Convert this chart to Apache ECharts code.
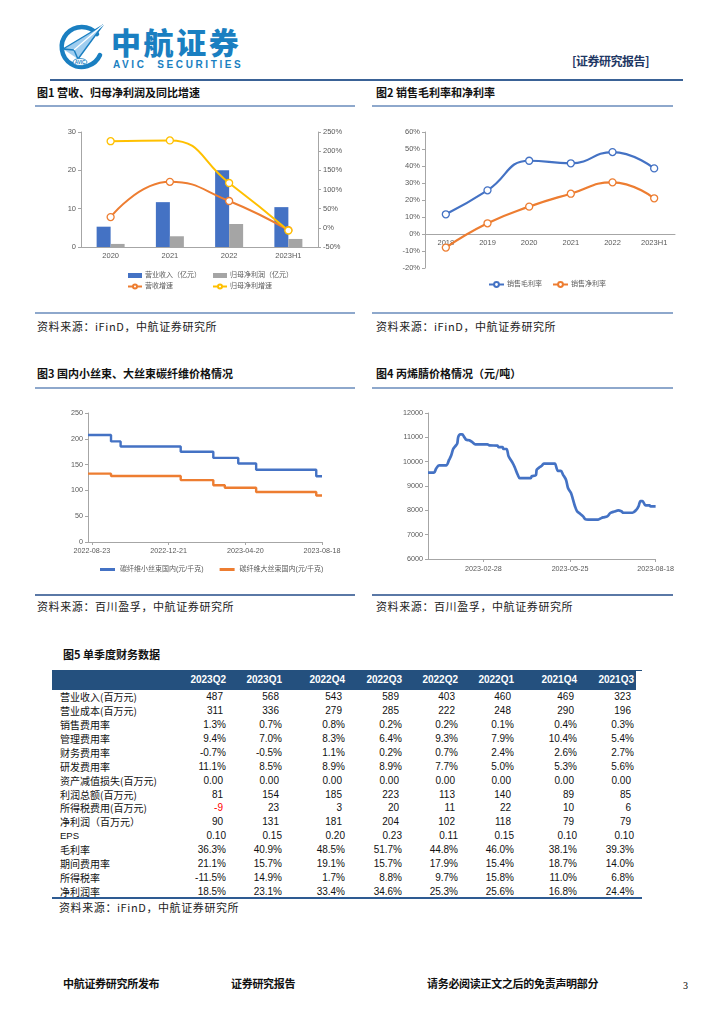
<!DOCTYPE html>
<html><head><meta charset="utf-8">
<script src="https://cdn.jsdelivr.net/npm/echarts@6/dist/echarts.min.js"></script>
<style>
html,body{margin:0;padding:0;background:#fff}
body{position:relative;width:724px;height:1024px;overflow:hidden;font-family:"Noto Sans CJK SC",sans-serif;color:#000}
.t{position:absolute;white-space:nowrap;transform:translateY(-50%);line-height:1.25}
.ln{position:absolute}
.chart{position:absolute}
.title{font-size:11px;font-weight:bold;color:#111}
.src{font-size:11px;color:#222;letter-spacing:0.6px}
.foot{font-size:11px;font-weight:bold;color:#111;letter-spacing:-0.3px}
.num{font-family:"Liberation Sans",Arial,sans-serif;font-size:10px;color:#111}
.lab{font-size:10px;color:#111}
.hd{font-family:"Liberation Sans",Arial,sans-serif;font-size:10px;font-weight:bold;color:#fff}
</style></head><body>
<svg style="position:absolute;left:56px;top:22px" width="50" height="50" viewBox="0 0 50 50">
  <path d="M41 12 A20 20 0 1 0 44 33" fill="none" stroke="#1a7fc1" stroke-width="4.5" stroke-linecap="round"/>
  <polygon points="7,27 47,3 22,37" fill="#9fcdef"/>
  <polyline points="7,27 47,3 22,37 18,28 7,27" fill="none" stroke="#1a7fc1" stroke-width="1.4"/>
  <line x1="18" y1="28" x2="47" y2="3" stroke="#ffffff" stroke-width="1.2"/>
  <ellipse cx="24" cy="40" rx="7" ry="3.5" fill="#fff" stroke="#1a7fc1" stroke-width="0.8"/>
  <text x="24" y="41.8" font-size="4.6" font-family="Liberation Sans" font-weight="bold" fill="#1a7fc1" text-anchor="middle">AVIC</text>
</svg>
<div id="c1" class="chart" style="left:35px;top:110px;width:320px;height:195px"></div>
<div id="c2" class="chart" style="left:372px;top:110px;width:305px;height:195px"></div>
<div id="c3" class="chart" style="left:35px;top:390px;width:320px;height:200px"></div>
<div id="c4" class="chart" style="left:372px;top:390px;width:305px;height:200px"></div>
<script>
// ---------------- DATA ----------------
// Fig 1
const f1Years = ['2020', '2021', '2022', '2023H1'];
const f1Revenue = [5.3, 11.7, 20.0, 10.4];        // 营业收入（亿元）
const f1NetProfit = [0.8, 2.8, 6.0, 2.1];         // 归母净利润（亿元）
const f1RevenueGrowth = [28, 120, 70, -6];        // 营收增速 %
const f1ProfitGrowth = [226, 228, 117, -7];       // 归母净利增速 %
// Fig 2
const f2Years = ['2018', '2019', '2020', '2021', '2022', '2023H1'];
const f2GrossMargin = [11.6, 25.7, 43.1, 41.6, 48.2, 38.6];
const f2NetMargin = [-8.0, 6.3, 16.1, 23.7, 30.4, 21.0];
// Fig 3 (step changes: date, price 元/千克)
const f3SmallTowDates = ['2022-08-17', '2022-09-22', '2022-10-07', '2023-01-09', '2023-03-01', '2023-04-09', '2023-05-07', '2023-08-09', '2023-08-18'];
const f3SmallTowPrice = [207.5, 195, 185, 175, 163, 152, 140, 127.5, 127.5];
const f3LargeTowDates = ['2022-08-17', '2022-09-22', '2023-01-09', '2023-03-01', '2023-03-19', '2023-05-07', '2023-08-09', '2023-08-18'];
const f3LargeTowPrice = [132.5, 128, 120, 110, 105, 97, 90, 90];
const f3TickDates = ['2022-08-23', '2022-12-21', '2023-04-20', '2023-08-18'];
// Fig 4 丙烯腈 (元/吨)
const f4Dates = ['2023-01-04','2023-01-10','2023-01-12','2023-01-15','2023-01-22','2023-01-25','2023-01-27','2023-01-29','2023-01-31','2023-02-02','2023-02-03','2023-02-05','2023-02-07','2023-02-09','2023-02-11','2023-02-14','2023-02-17','2023-02-20','2023-03-04','2023-03-06','2023-03-14','2023-03-15','2023-03-19','2023-03-20','2023-03-23','2023-03-25','2023-03-29','2023-03-31','2023-04-03','2023-04-05','2023-04-07','2023-04-16','2023-04-17','2023-04-21','2023-04-22','2023-04-25','2023-04-27','2023-04-29','2023-05-09','2023-05-10','2023-05-13','2023-05-16','2023-05-18','2023-05-21','2023-05-23','2023-05-26','2023-05-28','2023-05-30','2023-06-01','2023-06-04','2023-06-07','2023-06-09','2023-06-12','2023-06-22','2023-06-25','2023-06-27','2023-07-01','2023-07-04','2023-07-08','2023-07-12','2023-07-15','2023-07-17','2023-07-26','2023-07-30','2023-08-01','2023-08-03','2023-08-05','2023-08-08','2023-08-12','2023-08-13','2023-08-18'];
const f4Prices = [9550,9550,9710,9850,9850,10080,10250,10520,10630,10740,11010,11120,11120,11010,10900,10880,10800,10710,10710,10670,10660,10600,10600,10520,10520,10220,9950,9780,9470,9320,9320,9320,9400,9440,9670,9780,9830,9920,9920,9920,9620,9620,9470,9260,8920,8710,8440,8160,7960,7860,7750,7640,7620,7620,7680,7710,7750,7890,7950,8000,7960,7900,7900,8030,8160,8380,8380,8200,8200,8160,8160];
const f4TickDates = ['2023-02-28', '2023-05-25', '2023-08-18'];
// Fig 5 table
const tblQuarters = ['2023Q2','2023Q1','2022Q4','2022Q3','2022Q2','2022Q1','2021Q4','2021Q3'];
const rowRevenue = ['487','568','543','589','403','460','469','323'];
const rowCost = ['311','336','279','285','222','248','290','196'];
const rowSellExp = ['1.3%','0.7%','0.8%','0.2%','0.2%','0.1%','0.4%','0.3%'];
const rowAdminExp = ['9.4%','7.0%','8.3%','6.4%','9.3%','7.9%','10.4%','5.4%'];
const rowFinExp = ['-0.7%','-0.5%','1.1%','0.2%','0.7%','2.4%','2.6%','2.7%'];
const rowRdExp = ['11.1%','8.5%','8.9%','8.9%','7.7%','5.0%','5.3%','5.6%'];
const rowImpair = ['0.00','0.00','0.00','0.00','0.00','0.00','0.00','0.00'];
const rowTotalProfit = ['81','154','185','223','113','140','89','85'];
const rowTax = ['-9','23','3','20','11','22','10','6'];
const rowNetProfit = ['90','131','181','204','102','118','79','79'];
const rowEps = ['0.10','0.15','0.20','0.23','0.11','0.15','0.10','0.10'];
const rowGross = ['36.3%','40.9%','48.5%','51.7%','44.8%','46.0%','38.1%','39.3%'];
const rowPeriodExp = ['21.1%','15.7%','19.1%','15.7%','17.9%','15.4%','18.7%','14.0%'];
const rowTaxRate = ['-11.5%','14.9%','1.7%','8.8%','9.7%','15.8%','11.0%','6.8%'];
const rowNetMargin = ['18.5%','23.1%','33.4%','34.6%','25.3%','25.6%','16.8%','24.4%'];
const tblRowLabels = ['营业收入(百万元)','营业成本(百万元)','销售费用率','管理费用率','财务费用率','研发费用率','资产减值损失(百万元)','利润总额(百万元)','所得税费用(百万元)','净利润（百万元）','EPS','毛利率','期间费用率','所得税率','净利润率'];
const tblRows = [rowRevenue,rowCost,rowSellExp,rowAdminExp,rowFinExp,rowRdExp,rowImpair,rowTotalProfit,rowTax,rowNetProfit,rowEps,rowGross,rowPeriodExp,rowTaxRate,rowNetMargin];

// ---------------- PAGE TEXT ----------------
function addText(s, x, y, cls, anchor, extra) {
  const d = document.createElement('div');
  d.className = 't ' + (cls || '');
  d.textContent = s;
  d.style.top = y + 'px';
  if (anchor === 'r') d.style.right = (724 - x) + 'px';
  else d.style.left = x + 'px';
  if (extra) Object.assign(d.style, extra);
  document.body.appendChild(d);
  return d;
}
function addLine(x1, x2, y, color, h) {
  const d = document.createElement('div');
  d.className = 'ln';
  Object.assign(d.style, {left: x1 + 'px', width: (x2 - x1) + 'px', top: (y - h / 2) + 'px', height: h + 'px', background: color});
  document.body.appendChild(d);
}
function addBox(x, y, w, h, color) {
  const d = document.createElement('div');
  d.className = 'ln';
  Object.assign(d.style, {left: x + 'px', top: y + 'px', width: w + 'px', height: h + 'px', background: color});
  document.body.appendChild(d);
}

// header
addText('中航证券', 111, 41, '', 'l', {fontSize: '30px', fontWeight: '900', color: '#1a7fc1', letterSpacing: '2.6px', lineHeight: '1'});
addText('AVIC  SECURITIES', 113, 64.5, '', 'l', {fontFamily: '"Liberation Sans",Arial,sans-serif', fontSize: '10px', fontWeight: 'bold', color: '#1a7fc1', letterSpacing: '2.6px', whiteSpace: 'pre', lineHeight: '1'});
addText('[证券研究报告]', 572, 60, '', 'l', {fontSize: '12px', fontWeight: 'bold', color: '#1f3864', letterSpacing: '-0.5px'});
addLine(50, 683, 80, '#3a6296', 1.5);

// panel frames
const panelLine = '#8ea8cc';
addLine(35, 355, 106, panelLine, 1.5); addLine(35, 355, 313, panelLine, 1.5);
addLine(372, 673, 106, panelLine, 1.5); addLine(372, 673, 313, panelLine, 1.5);
addLine(35, 355, 388, panelLine, 1.5); addLine(35, 355, 595, '#5a78a6', 1.5);
addLine(372, 673, 388, panelLine, 1.5); addLine(372, 673, 595, '#5a78a6', 1.5);

addText('图1  营收、归母净利润及同比增速', 37, 93, 'title');
addText('图2  销售毛利率和净利率', 376, 93, 'title');
addText('图3  国内小丝束、大丝束碳纤维价格情况', 37, 374, 'title');
addText('图4  丙烯腈价格情况（元/吨）', 376, 374, 'title');
addText('图5  单季度财务数据', 63, 655, 'title');

addText('资料来源：iFinD，中航证券研究所', 37, 327, 'src');
addText('资料来源：iFinD，中航证券研究所', 376, 327, 'src');
addText('资料来源：百川盈孚，中航证券研究所', 37, 607, 'src');
addText('资料来源：百川盈孚，中航证券研究所', 376, 607, 'src');
addText('资料来源：iFinD，中航证券研究所', 59, 908, 'src');

// footer
addText('中航证券研究所发布', 63, 984, 'foot');
addText('证券研究报告', 231, 984, 'foot');
addText('请务必阅读正文之后的免责声明部分', 427, 984, 'foot');
addText('3', 683, 986, '', 'l', {fontFamily: '"Liberation Serif",serif', fontSize: '10px'});

// table
const colRight = [226, 282, 345, 402, 458, 514, 577, 634];
addLine(52, 642, 670.5, '#24507e', 1);
addBox(52, 670, 584, 20, '#24507e');
tblQuarters.forEach((q, i) => addText(q, colRight[i], 680, 'hd', 'r'));
const rowY0 = 697.3, rowStep = 13.89;
tblRows.forEach((row, r) => {
  const y = rowY0 + r * rowStep;
  addText(tblRowLabels[r], 60, y, tblRowLabels[r] === 'EPS' ? 'num' : 'lab', 'l', tblRowLabels[r] === 'EPS' ? {fontSize: '9.5px'} : null);
  row.forEach((v, c) => {
    const isPct = v.indexOf('%') >= 0 || tblRowLabels[r] === 'EPS';
    const d = addText(v, colRight[c] - (isPct ? 0 : 3), y, 'num', 'r');
    if (v.charAt(0) === '-' && !isPct) d.style.color = '#ff0000';
  });
});
addLine(52, 642, 898, '#2e5b92', 1.5);

// ---------------- CHARTS ----------------
const FONT = "'Liberation Sans','Noto Sans CJK SC',sans-serif";
const axisGray = '#a6a6a6';
const labelGray = '#595959';
const toTime = s => new Date(s.replace(/-/g, '/')).getTime();
const fmtDate = v => { const d = new Date(v); const p = n => (n < 10 ? '0' : '') + n; return d.getFullYear() + '-' + p(d.getMonth() + 1) + '-' + p(d.getDate()); };

function valAxis(extra) {
  return Object.assign({
    type: 'value', splitLine: {show: false},
    axisLine: {show: true, lineStyle: {color: axisGray, width: 1}},
    axisTick: {show: true, length: 3, lineStyle: {color: axisGray}},
    axisLabel: {color: labelGray, fontSize: 7.5, fontFamily: FONT, margin: 5}
  }, extra);
}
const lineMarker = c => ({type: 'line', smooth: true, symbol: 'circle', symbolSize: 7, showSymbol: true,
  lineStyle: {color: c, width: 2}, itemStyle: {color: '#fff', borderColor: c, borderWidth: 1.3}, z: 3});

// Chart 1
try {
const c1 = echarts.init(document.getElementById('c1'), null, {renderer: 'canvas'});
c1.setOption({
  animation: false,
  grid: {left: 46, top: 22, width: 237, height: 115, containLabel: false},
  xAxis: {type: 'category', data: f1Years,
    axisLine: {lineStyle: {color: axisGray}}, axisTick: {length: 3, lineStyle: {color: axisGray}},
    axisLabel: {color: labelGray, fontSize: 7.5, fontFamily: FONT, margin: 5}},
  yAxis: [valAxis({min: 0, max: 30, interval: 10}),
          valAxis({min: -50, max: 250, interval: 50, position: 'right', axisLabel: {color: labelGray, fontSize: 7.5, fontFamily: FONT, margin: 5, formatter: '{value}%'}})],
  legend: [
    {orient: 'vertical', left: 87, top: 157, itemWidth: 14, itemHeight: 5, itemGap: 4,
     textStyle: {color: labelGray, fontSize: 7, fontFamily: FONT, padding: [0, 0, 0, -2]},
     data: [{name: '营业收入（亿元）', icon: 'rect'}, {name: '营收增速'}]},
    {orient: 'vertical', left: 172, top: 157, itemWidth: 14, itemHeight: 5, itemGap: 4,
     textStyle: {color: labelGray, fontSize: 7, fontFamily: FONT, padding: [0, 0, 0, -2]},
     data: [{name: '归母净利润（亿元）', icon: 'rect'}, {name: '归母净利增速'}]}
  ],
  series: [
    {type: 'bar', name: '营业收入（亿元）', data: f1Revenue, barWidth: 14, barGap: '0%', itemStyle: {color: '#4472c4'}},
    {type: 'bar', name: '归母净利润（亿元）', data: f1NetProfit, barWidth: 14, barGap: '0%', itemStyle: {color: '#a5a5a5'}},
    Object.assign(lineMarker('#ed7d31'), {name: '营收增速', yAxisIndex: 1, data: f1RevenueGrowth}),
    Object.assign(lineMarker('#ffc000'), {name: '归母净利增速', yAxisIndex: 1, data: f1ProfitGrowth})
  ]
});
} catch (e) { console.error(e); }

// Chart 2
try {
const c2 = echarts.init(document.getElementById('c2'));
c2.setOption({
  animation: false,
  grid: {left: 53, top: 22, width: 250, height: 136},
  xAxis: {type: 'category', data: f2Years, offset: -34,
    axisLine: {onZero: false, lineStyle: {color: axisGray}}, axisTick: {length: 3, lineStyle: {color: axisGray}},
    axisLabel: {color: labelGray, fontSize: 7.5, fontFamily: FONT, margin: 5}},
  yAxis: valAxis({min: -20, max: 60, interval: 10, axisLabel: {color: labelGray, fontSize: 7.5, fontFamily: FONT, margin: 5, formatter: '{value}%'}}),
  legend: {left: 111, top: 166, itemWidth: 15, itemHeight: 6, itemGap: 10,
    textStyle: {color: labelGray, fontSize: 7, fontFamily: FONT, padding: [0, 0, 0, -2]},
    data: ['销售毛利率', '销售净利率']},
  series: [
    Object.assign(lineMarker('#4472c4'), {name: '销售毛利率', data: f2GrossMargin, lineStyle: {color: '#4472c4', width: 2.2}}),
    Object.assign(lineMarker('#ed7d31'), {name: '销售净利率', data: f2NetMargin, lineStyle: {color: '#ed7d31', width: 2.2}})
  ]
});
} catch (e) { console.error(e); }

// time-like value axis with label/tick only at given dates
function dateAxis(minDate, maxDate, ticks, margin) {
  const tv = ticks.map(toTime);
  return {type: 'value', min: toTime(minDate), max: toTime(maxDate), splitLine: {show: false},
    axisLine: {onZero: false, lineStyle: {color: axisGray}},
    axisTick: {show: true, length: 3, lineStyle: {color: axisGray}, customValues: tv},
    axisLabel: {color: labelGray, fontSize: 7.2, fontFamily: FONT, margin: margin, customValues: tv, formatter: fmtDate, hideOverlap: false}};
}
const plainNum = v => String(v);

// Chart 3
try {
const c3 = echarts.init(document.getElementById('c3'));
c3.setOption({
  animation: false,
  grid: {left: 53, top: 23, width: 234, height: 129},
  xAxis: dateAxis('2022-08-17', '2023-08-18', f3TickDates, 5),
  yAxis: valAxis({min: 0, max: 250, interval: 50, axisLabel: {color: labelGray, fontSize: 7.2, fontFamily: FONT, margin: 5, formatter: plainNum}}),
  legend: {left: 60, top: 171, itemWidth: 15, itemHeight: 3, itemGap: 16, icon: 'rect',
    textStyle: {color: labelGray, fontSize: 7, fontFamily: FONT},
    data: ['碳纤维小丝束国内(元/千克)', '碳纤维大丝束国内(元/千克)']},
  series: [
    {type: 'line', name: '碳纤维小丝束国内(元/千克)', step: 'end', showSymbol: false, symbol: 'none',
     data: f3SmallTowDates.map((d, i) => [toTime(d), f3SmallTowPrice[i]]), lineStyle: {color: '#4472c4', width: 2.4}, itemStyle: {color: '#4472c4'}},
    {type: 'line', name: '碳纤维大丝束国内(元/千克)', step: 'end', showSymbol: false, symbol: 'none',
     data: f3LargeTowDates.map((d, i) => [toTime(d), f3LargeTowPrice[i]]), lineStyle: {color: '#ed7d31', width: 2.4}, itemStyle: {color: '#ed7d31'}}
  ]
});
} catch (e) { console.error(e); }

// Chart 4
try {
const c4 = echarts.init(document.getElementById('c4'));
c4.setOption({
  animation: false,
  grid: {left: 56, top: 23, width: 229, height: 146},
  xAxis: dateAxis('2023-01-04', '2023-08-18', f4TickDates, 6),
  yAxis: valAxis({min: 6000, max: 12000, interval: 1000, axisLabel: {color: labelGray, fontSize: 7.2, fontFamily: FONT, margin: 5, formatter: plainNum}}),
  series: [
    {type: 'line', name: '丙烯腈', showSymbol: false, symbol: 'none', smooth: 0.3,
     data: f4Dates.map((d, i) => [toTime(d), f4Prices[i]]), lineStyle: {color: '#4472c4', width: 2.7}}
  ]
});
} catch (e) { console.error(e); }
</script>
</body></html>
